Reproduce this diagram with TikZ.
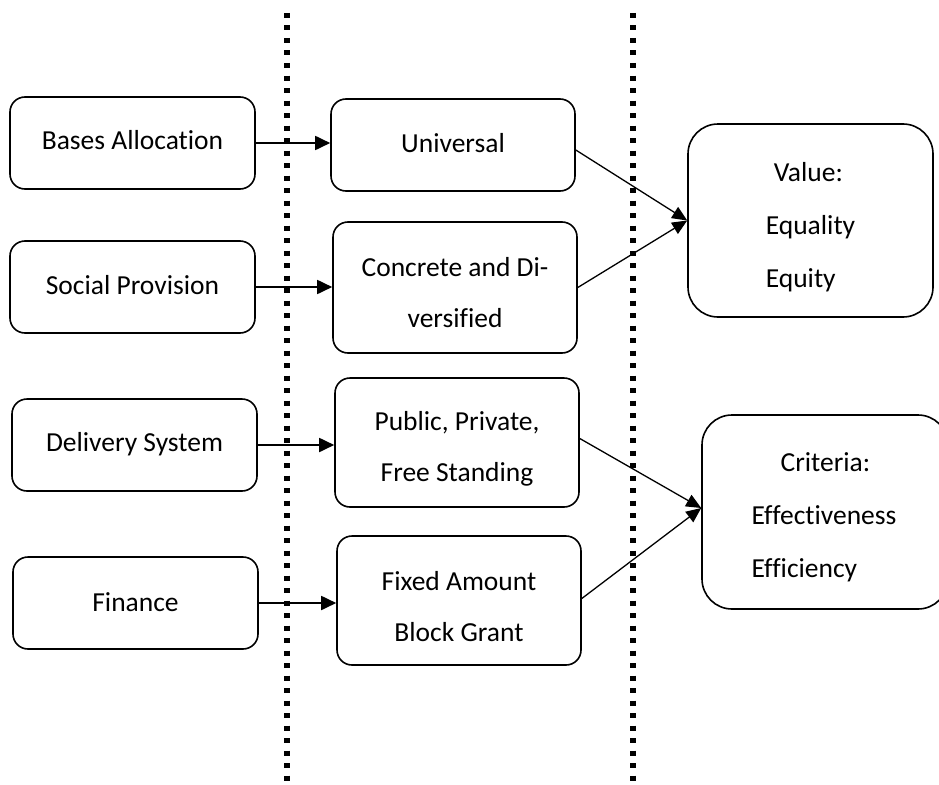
\documentclass[tikz,border=0pt]{standalone}
\usepackage{fontspec}
\setmainfont{Carlito}[Ligatures=NoCommon]
\usetikzlibrary{arrows.meta}
\tikzset{
  box/.style={draw, line width=1.6pt, rounded corners=15pt, inner sep=0pt},
  txt/.style={align=center, inner sep=0pt, font=\fontsize{27.5}{51}\selectfont},
  rtxt/.style={align=left, inner sep=0pt, font=\fontsize{27.5}{53}\selectfont},
  lbox/.style={box, minimum width=245pt, minimum height=92pt},
  mbox/.style={box, minimum width=244pt, minimum height=130pt},
  rbox/.style={box, rounded corners=30pt, minimum width=246pt, minimum height=194pt},
  harrow/.style={line width=1.8pt, -{Triangle[length=15pt,width=14pt]}},
  darrow/.style={line width=1.3pt, -{Triangle[length=15pt,width=13pt]}},
  dotline/.style={line width=6pt, dash pattern=on 5pt off 7.5pt}
}
\begin{document}
\begin{tikzpicture}[x=1pt,y=-1pt]
\clip (0,0) rectangle (939,784);
\fill[white] (0,0) rectangle (939,784);
% dotted separators
\draw[dotline] (287,13) -- (287,784);
\draw[dotline] (633,13) -- (633,784);
% left column
\node[lbox, label={[txt, yshift=3pt]center:Bases Allocation}] (ba) at (132.5,143) {};
\node[lbox, label={[txt, yshift=2pt]center:Social Provision}] (sp) at (132.5,287) {};
\node[lbox, label={[txt, yshift=1pt]center:Delivery System}] (ds) at (134.5,445) {};
\node[lbox, label={[txt, yshift=1pt]center:Finance}] (fi) at (135.5,603) {};
% middle column
\node[mbox, minimum height=92pt, label={[txt, yshift=2pt]center:Universal}] (un) at (453,145) {};
\node[mbox, minimum height=131pt, label={[txt, yshift=-5pt]center:Concrete and Di-\\versified}] (cd) at (455,287.5) {};
\node[mbox, minimum height=129pt, label={[txt, yshift=-6pt]center:Public, Private,\\Free Standing}] (pp) at (457,442.5) {};
\node[mbox, minimum height=129pt, label={[txt, yshift=-6pt]center:Fixed Amount\\Block Grant}] (fa) at (459,600.5) {};
% right column
\node[rbox, minimum width=245pt, minimum height=193pt, label={[rtxt, yshift=-7pt]center:\hspace{8pt}Value:\\Equality\\Equity}] (va) at (810.5,220.5) {};
\node[rbox, minimum height=194pt, label={[rtxt, xshift=-1pt, yshift=-5pt]center:\hspace{29pt}Criteria:\\Effectiveness\\Efficiency}] (cr) at (825,512) {};
% arrows
\draw[harrow] (ba.east) -- (ba.east -| un.west);
\draw[harrow] (sp.east) -- (sp.east -| cd.west);
\draw[harrow] (ds.east) -- (ds.east -| pp.west);
\draw[harrow] (fi.east) -- (fi.east -| fa.west);
\draw[darrow] ([yshift=-5pt]un.east) -- (va.west);
\draw[darrow] (cd.east) -- (va.west);
\draw[darrow] ([yshift=4pt]pp.east) -- ([yshift=4pt]cr.west);
\draw[darrow] ([yshift=2pt]fa.east) -- ([yshift=4pt]cr.west);
\end{tikzpicture}
\end{document}
